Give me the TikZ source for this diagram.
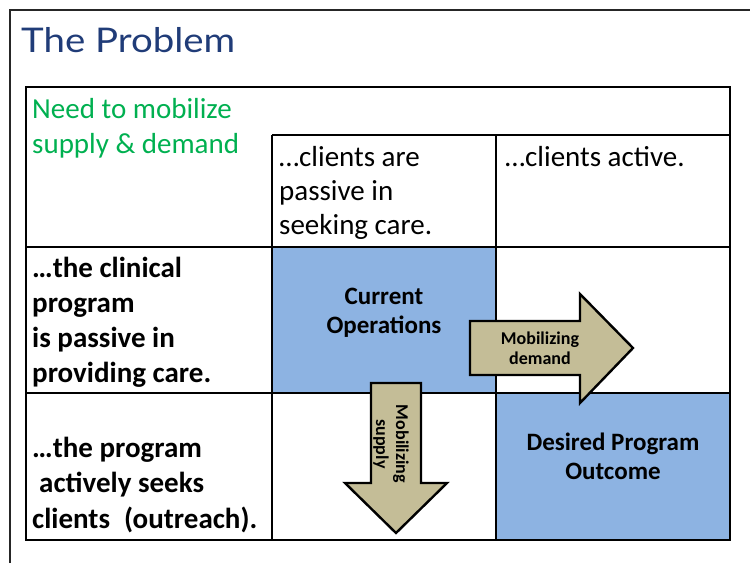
\documentclass[tikz,border=0pt]{standalone}
\usepackage{fontspec}
\setmainfont{Carlito}
\newfontfamily\titlefont{Lato}
\definecolor{titleblue}{HTML}{203C78}
\definecolor{needgreen}{HTML}{00B050}
\definecolor{cellblue}{HTML}{8DB3E2}
\definecolor{arrowtan}{HTML}{C4BD97}
\tikzset{
  grid line/.style={line width=1.6pt, black},
  frame line/.style={line width=2pt, black!85},
  bigarrow/.style={fill=arrowtan, draw=black, line width=2.4pt, line join=miter},
  txt/.style={inner sep=0pt, anchor=base west},
  regtxt/.style={txt, font=\fontsize{29}{35}\selectfont},
  boldtxt/.style={txt, font=\fontsize{29}{35}\selectfont\bfseries},
  celltxt/.style={inner sep=0pt, anchor=base, align=center, font=\fontsize{25}{29}\selectfont\bfseries},
  arrowtxt/.style={inner sep=0pt, anchor=base, align=center, font=\fontsize{18}{20}\selectfont\bfseries},
}
\begin{document}
\begin{tikzpicture}[x=1pt, y=-1pt]
\useasboundingbox (0,0) rectangle (750,563);
% slide frame
\draw[frame line] (10,563) -- (10,10) -- (750,10);
% title
\node[txt, font=\titlefont\fontsize{34}{40}\selectfont, text=titleblue] (title) at (21,52) {\scalebox{1.13}[1]{The Problem}};
% cell fills
\fill[cellblue] (272,247) rectangle (496,393);
\fill[cellblue] (496,393) rectangle (730,540);
% table grid
\draw[grid line] (26,87) rectangle (730,540);
\draw[grid line] (272,135) -- (730,135);
\draw[grid line] (272,135) -- (272,540);
\draw[grid line] (496,135) -- (496,540);
\draw[grid line] (26,247) -- (730,247);
\draw[grid line] (26,393) -- (730,393);
% header texts
\node[regtxt, text=needgreen] (need1) at (32,118) {Need to mobilize};
\node[regtxt, text=needgreen] (need2) at (32,153) {supply \& demand};
\node[regtxt] (pas1) at (279,166) {…clients are};
\node[regtxt] (pas2) at (279,200) {passive in};
\node[regtxt] (pas3) at (279,234) {seeking care.};
\node[regtxt] (act1) at (505,166) {…clients active.};
% row labels
\node[boldtxt] (r1a) at (32,277) {…the clinical};
\node[boldtxt] (r1b) at (32,312) {program};
\node[boldtxt] (r1c) at (32,347) {is passive in};
\node[boldtxt] (r1d) at (32,382) {providing care.};
\node[boldtxt] (r2a) at (32,457) {…the program};
\node[boldtxt] (r2b) at (39,492) {actively seeks};
\node[boldtxt] (r2c) at (32,528) {clients\hspace{14pt}(outreach).};
% cell texts (anchor = baseline of last line)
\node[celltxt] (cur) at (384,333) {Current\\Operations};
\node[celltxt] (des) at (613,479) {Desired Program\\Outcome};
% arrows
\draw[bigarrow] (470,321) -- (580,321) -- (580,294) -- (633,348) -- (580,403) -- (580,375) -- (470,375) -- cycle;
\draw[bigarrow] (371,383) -- (421,383) -- (421,483) -- (447,483) -- (396,533) -- (345,483) -- (371,483) -- cycle;
\node[arrowtxt] (dem) at (540,364) {Mobilizing\\demand};
\node[arrowtxt, rotate=-90] (sup) at (376,444) {Mobilizing\\supply};
\end{tikzpicture}
\end{document}
